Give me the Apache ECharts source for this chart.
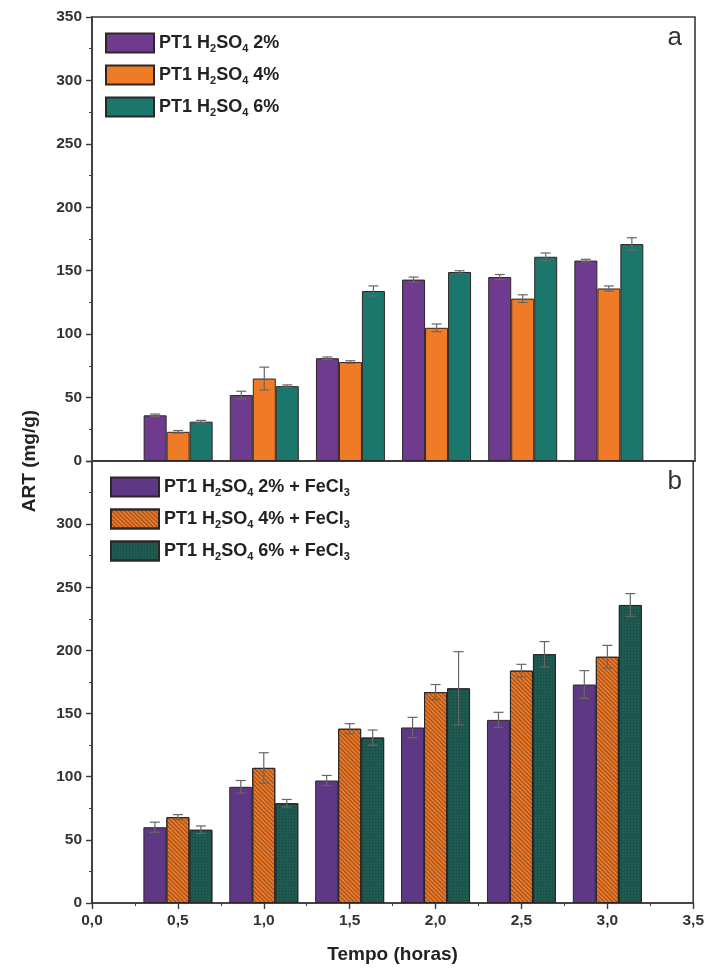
<!DOCTYPE html>
<html>
<head>
<meta charset="utf-8">
<script src="https://cdn.jsdelivr.net/npm/echarts@6/dist/echarts.min.js"></script>
<style>html,body{margin:0;padding:0;background:#fff}#c{width:707px;height:972px}</style>
</head>
<body>
<div id="c"></div>
<script>
// ---- data ----
const times = [0.5, 1.0, 1.5, 2.0, 2.5, 3.0];
const namesA = ['PT1 H2SO4 2%', 'PT1 H2SO4 4%', 'PT1 H2SO4 6%'];
const namesB = ['PT1 H2SO4 2% + FeCl3', 'PT1 H2SO4 4% + FeCl3', 'PT1 H2SO4 6% + FeCl3'];
const a2 = [36, 52, 81, 143, 145, 158];
const a2err = [1, 3, 1, 2, 2, 1];
const a4 = [23, 65, 78, 105, 128, 136];
const a4err = [1, 9, 1, 3, 3, 2];
const a6 = [31, 59, 134, 149, 161, 171];
const a6err = [1, 1, 4, 1, 3, 5];
const b2 = [60, 92, 97, 139, 145, 173];
const b2err = [4, 5, 4, 8, 6, 11];
const b4 = [68, 107, 138, 167, 184, 195];
const b4err = [2, 12, 4, 6, 5, 9];
const b6 = [58, 79, 131, 170, 197, 236];
const b6err = [3, 3, 6, 29, 10, 9];

const FONT = 'Liberation Sans, Arial, sans-serif';
const BARW = 23;
const colorsA = ['#6e3b8e', '#f07b27', '#1b776c'];
const colorsB = ['#5f3885', '#e8782a', '#1e5a4f'];
const decals = [
  null,
  {symbol: 'rect', symbolSize: 1, dashArrayX: [1, 0], dashArrayY: [1, 2], rotation: Math.PI / 4, color: 'rgba(90,40,10,0.55)'},
  {symbol: 'rect', symbolSize: 1, dashArrayX: [1, 2], dashArrayY: [1, 2], rotation: 0, color: 'rgba(0,30,25,0.35)'}
];

function rich(n) {
  return '{t|' + n.replace('H2SO4', 'H}{s|2}{t|SO}{s|4}{t|').replace('FeCl3', 'FeCl}{s|3}{t|') + '}';
}
const richStyle = {
  t: {fontSize: 18, fontWeight: 'bold', color: '#222', fontFamily: FONT, lineHeight: 24},
  s: {fontSize: 11, fontWeight: 'bold', color: '#222', fontFamily: FONT, lineHeight: 24, padding: [11, 0, 0, 0]}
};

function barSeries(name, vals, gi, k, colors) {
  const it = {color: colors[k], borderColor: '#2e2626', borderWidth: 1};
  if (gi === 1 && decals[k]) it.decal = decals[k];
  return {
    name: name, type: 'bar', xAxisIndex: gi, yAxisIndex: gi,
    barWidth: BARW, barGap: '0%',
    data: times.map((t, i) => [t, vals[i]]),
    itemStyle: it, emphasis: {disabled: true}, z: 2
  };
}
function errSeries(vals, errs, gi, k) {
  return {
    type: 'custom', xAxisIndex: gi, yAxisIndex: gi, z: 5, silent: true,
    data: times.map((t, i) => [t, vals[i], errs[i]]),
    renderItem: function (params, api) {
      const x = api.value(0), y = api.value(1), e = api.value(2);
      const top = api.coord([x, y + e]);
      const bot = api.coord([x, y - e]);
      const cx = top[0] + (k - 1) * BARW;
      const st = {stroke: '#666', lineWidth: 1.2};
      return {type: 'group', children: [
        {type: 'line', shape: {x1: cx, y1: top[1], x2: cx, y2: bot[1]}, style: st},
        {type: 'line', shape: {x1: cx - 5, y1: top[1], x2: cx + 5, y2: top[1]}, style: st},
        {type: 'line', shape: {x1: cx - 5, y1: bot[1], x2: cx + 5, y2: bot[1]}, style: st}
      ]};
    }
  };
}

const axLine = {show: true, lineStyle: {color: '#3a3a3a', width: 1.6}};
const axLabel = {color: '#333', fontWeight: 'bold', fontSize: 15.5, fontFamily: FONT};
function xAx(gi) {
  return {
    type: 'value', gridIndex: gi, min: 0, max: 3.5, interval: 0.5,
    axisLine: axLine,
    axisTick: {show: gi === 1, length: 6, lineStyle: {color: '#3a3a3a', width: 1.4}},
    minorTick: {show: gi === 1, splitNumber: 2, length: 3, lineStyle: {color: '#3a3a3a'}},
    axisLabel: gi === 1 ? Object.assign({margin: 10, formatter: v => v.toFixed(1).replace('.', ',')}, axLabel) : {show: false},
    splitLine: {show: false},
    name: gi === 1 ? 'Tempo (horas)' : '', nameLocation: 'middle', nameGap: 42,
    nameTextStyle: {fontSize: 19, fontWeight: 'bold', color: '#222', fontFamily: FONT}
  };
}
function yAx(gi) {
  return {
    type: 'value', gridIndex: gi, min: 0, max: 350, interval: 50,
    axisLine: axLine,
    axisTick: {show: true, length: 6, lineStyle: {color: '#3a3a3a', width: 1.4}},
    minorTick: {show: true, splitNumber: 2, length: 3, lineStyle: {color: '#3a3a3a'}},
    axisLabel: Object.assign({margin: 10, showMaxLabel: gi === 0}, axLabel),
    splitLine: {show: false}
  };
}

const chart = echarts.init(document.getElementById('c'), null, {renderer: 'canvas'});
chart.setOption({
  animation: false,
  backgroundColor: '#fff',
  grid: [
    {left: 92, right: 12, top: 17, height: 444, show: true, borderColor: '#3a3a3a', borderWidth: 1.6, backgroundColor: 'transparent'},
    {left: 92, right: 12, top: 461, height: 442, show: true, borderColor: '#3a3a3a', borderWidth: 1.6, backgroundColor: 'transparent'}
  ],
  xAxis: [xAx(0), xAx(1)],
  yAxis: [yAx(0), yAx(1)],
  legend: [
    {data: namesA, left: 100, top: 27, orient: 'vertical', itemWidth: 48, itemHeight: 19, itemGap: 10,
     selectedMode: false, icon: 'rect', formatter: rich, textStyle: {rich: richStyle}},
    {data: namesB, left: 105, top: 471, orient: 'vertical', itemWidth: 48, itemHeight: 19, itemGap: 10,
     selectedMode: false, icon: 'rect', formatter: rich, textStyle: {rich: richStyle}}
  ],
  title: [
    {text: 'a', right: 20, top: 20, textStyle: {fontSize: 26, fontWeight: 'normal', color: '#333', fontFamily: FONT}},
    {text: 'b', right: 20, top: 464, textStyle: {fontSize: 26, fontWeight: 'normal', color: '#333', fontFamily: FONT}}
  ],
  graphic: [
    {type: 'text', x: 30, y: 461, rotation: Math.PI / 2,
     style: {text: 'ART (mg/g)', textAlign: 'center', textVerticalAlign: 'middle', font: 'bold 19px ' + FONT, fill: '#222'}}
  ],
  series: [
    barSeries(namesA[0], a2, 0, 0, colorsA),
    barSeries(namesA[1], a4, 0, 1, colorsA),
    barSeries(namesA[2], a6, 0, 2, colorsA),
    barSeries(namesB[0], b2, 1, 0, colorsB),
    barSeries(namesB[1], b4, 1, 1, colorsB),
    barSeries(namesB[2], b6, 1, 2, colorsB),
    errSeries(a2, a2err, 0, 0), errSeries(a4, a4err, 0, 1), errSeries(a6, a6err, 0, 2),
    errSeries(b2, b2err, 1, 0), errSeries(b4, b4err, 1, 1), errSeries(b6, b6err, 1, 2)
  ]
});
</script>
</body>
</html>
